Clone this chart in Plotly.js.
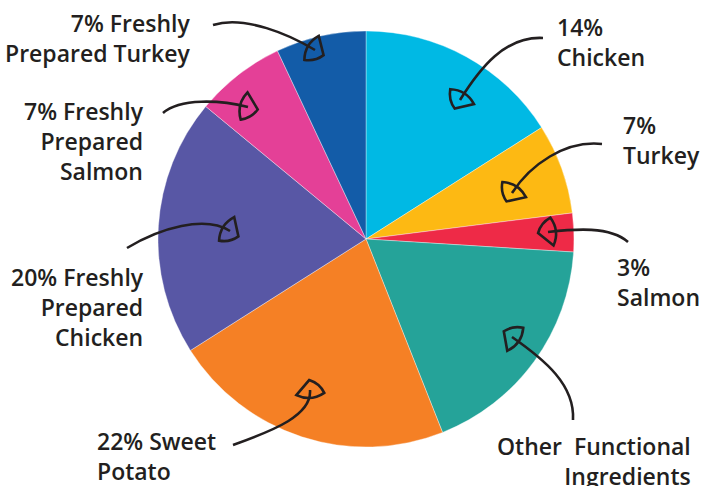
<!DOCTYPE html>
<html>
<head>
<meta charset="utf-8">
<script src="https://cdn.plot.ly/plotly-3.0.1.min.js"></script>
<style>
html,body{margin:0;padding:0;background:#fff;}
#chart{width:702px;height:486px;}
</style>
</head>
<body>
<div id="chart"></div>
<script>
// Data (clockwise from 12 o'clock)
const categories = ["Chicken", "Turkey", "Salmon", "Other Functional Ingredients",
  "Sweet Potato", "Freshly Prepared Chicken", "Freshly Prepared Salmon", "Freshly Prepared Turkey"];
const shares = [16, 7, 3, 18, 22, 20, 7, 7];
const labelTexts = ["14%<br>Chicken", "7%<br>Turkey", "3%<br>Salmon", "Other\u00a0 Functional<br>Ingredients",
  "22% Sweet<br>Potato", "20% Freshly<br>Prepared<br>Chicken", "7% Freshly<br>Prepared<br>Salmon",
  "7% Freshly<br>Prepared Turkey"];
const colors = ["#00B9E4", "#FDB913", "#EE2A47", "#25A399", "#F58025", "#5857A5", "#E44097", "#135CA8"];

const W = 702, H = 486;
const cx = 366, cy = 239, R = 208;

// label placement (pixels): x, y-centre, anchor
const labelPos = [
  [555, 42, "left"], [621, 140, "left"], [615, 282, "left"], [693, 461, "right"],
  [95, 456, "left"], [146, 307, "right"], [146, 141, "right"], [192, 38, "right"]
];
// arrow curves (pixels): start, ctrl1, ctrl2, end
const arrowCurves = [
  [[543,38],[505,36],[480,68],[460,100]],
  [[602,144],[565,140],[530,165],[512,193]],
  [[628,242],[610,226],[575,229],[548,232]],
  [[573,420],[575,385],[545,360],[512,337]],
  [[233,445],[275,430],[312,415],[310,390]],
  [[127,248],[160,228],[205,215],[230,231]],
  [[163,113],[180,98],[220,100],[248,107]],
  [[213,25],[245,15],[290,35],[315,50]]
];

const px = x => x / W;
const py = y => 1 - y / H;
function pt(p){ return px(p[0]).toFixed(5) + "," + py(p[1]).toFixed(5); }

const shapes = [];
const lineStyle = {color: "#231F20", width: 2.6};
arrowCurves.forEach(c => {
  const [s, c1, c2, e] = c;
  shapes.push({type: "path", xref: "paper", yref: "paper",
    path: "M" + pt(s) + " C" + pt(c1) + " " + pt(c2) + " " + pt(e),
    line: lineStyle, fillcolor: "rgba(0,0,0,0)"});
  // hand-drawn style head
  let dx = e[0] - c2[0], dy = e[1] - c2[1];
  const L = Math.hypot(dx, dy); dx /= L; dy /= L;
  const nx = -dy, ny = dx;
  const P = (f, n) => [e[0] + f*dx + n*nx, e[1] + f*dy + n*ny];
  const tip = P(10, 0), a = P(-4, 14), b = P(-4, -14);
  const ca = P(6, 10), cb = P(-12, 0);
  shapes.push({type: "path", xref: "paper", yref: "paper",
    path: "M" + pt(tip) + " Q" + pt(ca) + " " + pt(a) + " Q" + pt(cb) + " " + pt(b) + " L" + pt(tip) + " Z",
    line: lineStyle, fillcolor: "rgba(0,0,0,0)"});
});

const annotations = labelTexts.map((t, i) => ({
  text: t, showarrow: false, xref: "paper", yref: "paper",
  x: px(labelPos[i][0]), y: py(labelPos[i][1]),
  xanchor: labelPos[i][2], yanchor: "middle", align: labelPos[i][2],
  font: {family: "Open Sans, sans-serif", size: 23, color: "#231F20", weight: 600}
}));

const trace = {
  type: "pie", labels: categories, values: shares, sort: false,
  direction: "clockwise", rotation: 0, textinfo: "none", hoverinfo: "skip",
  marker: {colors: colors, line: {color: "rgba(255,255,255,0.6)", width: 0.6}},
  domain: {x: [(cx - R) / W, (cx + R) / W], y: [(H - cy - R) / H, (H - cy + R) / H]}
};

Plotly.newPlot("chart", [trace], {
  width: W, height: H, margin: {l: 0, r: 0, t: 0, b: 0},
  showlegend: false, paper_bgcolor: "#fff",
  shapes: shapes, annotations: annotations
}, {displayModeBar: false, staticPlot: true});
</script>
</body>
</html>
